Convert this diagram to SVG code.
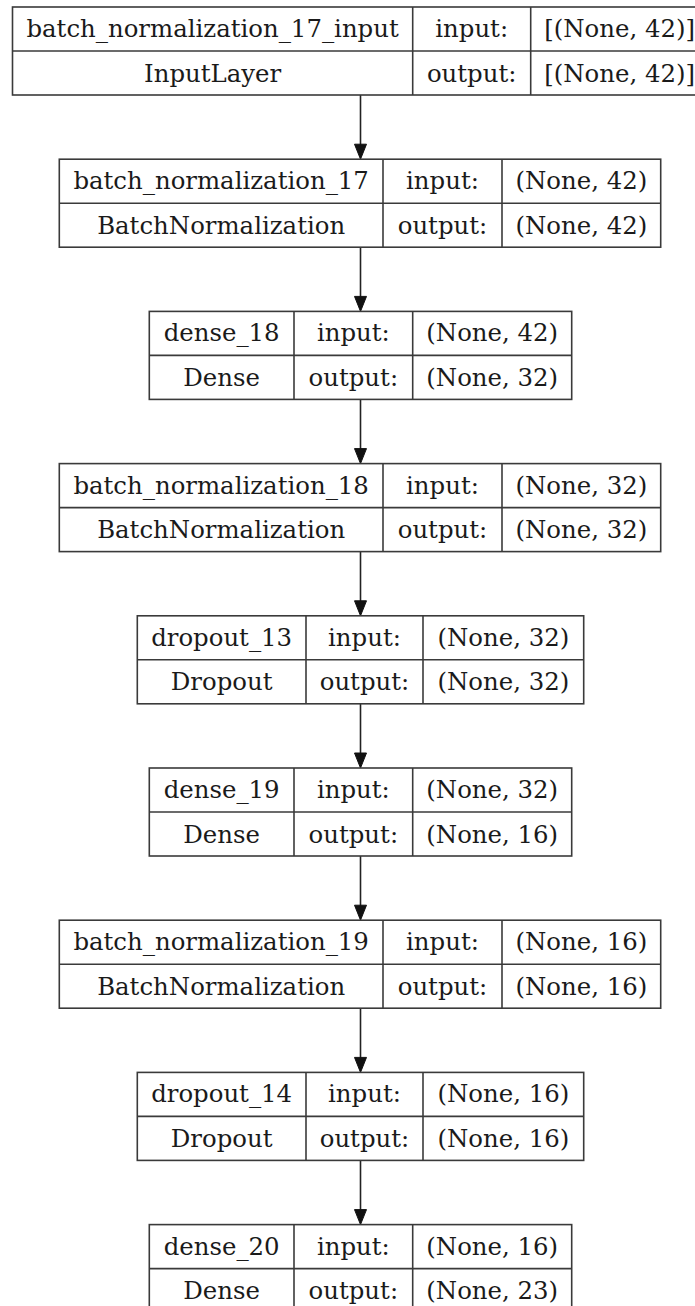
<svg xmlns="http://www.w3.org/2000/svg" width="695" height="1306" viewBox="0 0 695 1306">
<style>
.box{fill:#fff;stroke:#3a3a3a;stroke-width:1.6}
.ln{stroke:#3a3a3a;stroke-width:1.6}
text{font-family:"DejaVu Serif","Liberation Serif",serif;font-size:24.4px;fill:#1a1a1a;text-anchor:middle}
.edge{stroke:#222;stroke-width:1.6;fill:none}
.head{fill:#111;stroke:#111;stroke-width:1}
</style>
<rect width="695" height="1306" fill="#fff"/>
<g id="connectors">
<line class="edge" x1="360.5" y1="95" x2="360.5" y2="145"/><polygon class="head" points="360.5,159.2 354.5,144.2 366.5,144.2"/>
<line class="edge" x1="360.5" y1="247.2" x2="360.5" y2="297"/><polygon class="head" points="360.5,311.4 354.5,296.4 366.5,296.4"/>
<line class="edge" x1="360.5" y1="399.4" x2="360.5" y2="449"/><polygon class="head" points="360.5,463.6 354.5,448.6 366.5,448.6"/>
<line class="edge" x1="360.5" y1="551.6" x2="360.5" y2="601"/><polygon class="head" points="360.5,615.8 354.5,600.8 366.5,600.8"/>
<line class="edge" x1="360.5" y1="703.8" x2="360.5" y2="754"/><polygon class="head" points="360.5,768 354.5,753 366.5,753"/>
<line class="edge" x1="360.5" y1="856" x2="360.5" y2="906"/><polygon class="head" points="360.5,920.2 354.5,905.2 366.5,905.2"/>
<line class="edge" x1="360.5" y1="1008.2" x2="360.5" y2="1058"/><polygon class="head" points="360.5,1072.4 354.5,1057.4 366.5,1057.4"/>
<line class="edge" x1="360.5" y1="1160.4" x2="360.5" y2="1210"/><polygon class="head" points="360.5,1224.6 354.5,1209.6 366.5,1209.6"/>
</g>
<g id="node_input">
<rect class="box" x="12.5" y="7" width="696" height="88"/>
<line class="ln" x1="12.5" y1="51" x2="708.5" y2="51"/>
<line class="ln" x1="412.7" y1="7" x2="412.7" y2="95"/>
<line class="ln" x1="530.7" y1="7" x2="530.7" y2="95"/>
<text x="212.6" y="37">batch_normalization_17_input</text>
<text x="212.6" y="81.5">InputLayer</text>
<text x="471.7" y="37">input:</text>
<text x="471.7" y="81.5">output:</text>
<text x="619.6" y="37">[(None, 42)]</text>
<text x="619.6" y="81.5">[(None, 42)]</text>
</g>
<g id="node_bn17" transform="translate(0,159.2)">
<rect class="box" x="59.3" y="0" width="601.4" height="88"/>
<line class="ln" x1="59.3" y1="44" x2="660.7" y2="44"/>
<line class="ln" x1="383" y1="0" x2="383" y2="88"/>
<line class="ln" x1="502" y1="0" x2="502" y2="88"/>
<text x="221.15" y="30">batch_normalization_17</text>
<text x="221.15" y="74.5">BatchNormalization</text>
<text x="442.5" y="30">input:</text>
<text x="442.5" y="74.5">output:</text>
<text x="581.35" y="30">(None, 42)</text>
<text x="581.35" y="74.5">(None, 42)</text>
</g>
<g id="node_dense18" transform="translate(0,311.4)">
<rect class="box" x="149.3" y="0" width="422.4" height="88"/>
<line class="ln" x1="149.3" y1="44" x2="571.7" y2="44"/>
<line class="ln" x1="294" y1="0" x2="294" y2="88"/>
<line class="ln" x1="412.7" y1="0" x2="412.7" y2="88"/>
<text x="221.65" y="30">dense_18</text>
<text x="221.65" y="74.5">Dense</text>
<text x="353.35" y="30">input:</text>
<text x="353.35" y="74.5">output:</text>
<text x="492.2" y="30">(None, 42)</text>
<text x="492.2" y="74.5">(None, 32)</text>
</g>
<g id="node_bn18" transform="translate(0,463.6)">
<rect class="box" x="59.3" y="0" width="601.4" height="88"/>
<line class="ln" x1="59.3" y1="44" x2="660.7" y2="44"/>
<line class="ln" x1="383" y1="0" x2="383" y2="88"/>
<line class="ln" x1="502" y1="0" x2="502" y2="88"/>
<text x="221.15" y="30">batch_normalization_18</text>
<text x="221.15" y="74.5">BatchNormalization</text>
<text x="442.5" y="30">input:</text>
<text x="442.5" y="74.5">output:</text>
<text x="581.35" y="30">(None, 32)</text>
<text x="581.35" y="74.5">(None, 32)</text>
</g>
<g id="node_dropout13" transform="translate(0,615.8)">
<rect class="box" x="137.3" y="0" width="446.4" height="88"/>
<line class="ln" x1="137.3" y1="44" x2="583.7" y2="44"/>
<line class="ln" x1="306" y1="0" x2="306" y2="88"/>
<line class="ln" x1="423" y1="0" x2="423" y2="88"/>
<text x="221.65" y="30">dropout_13</text>
<text x="221.65" y="74.5">Dropout</text>
<text x="364.5" y="30">input:</text>
<text x="364.5" y="74.5">output:</text>
<text x="503.35" y="30">(None, 32)</text>
<text x="503.35" y="74.5">(None, 32)</text>
</g>
<g id="node_dense19" transform="translate(0,768)">
<rect class="box" x="149.3" y="0" width="422.4" height="88"/>
<line class="ln" x1="149.3" y1="44" x2="571.7" y2="44"/>
<line class="ln" x1="294" y1="0" x2="294" y2="88"/>
<line class="ln" x1="412.7" y1="0" x2="412.7" y2="88"/>
<text x="221.65" y="30">dense_19</text>
<text x="221.65" y="74.5">Dense</text>
<text x="353.35" y="30">input:</text>
<text x="353.35" y="74.5">output:</text>
<text x="492.2" y="30">(None, 32)</text>
<text x="492.2" y="74.5">(None, 16)</text>
</g>
<g id="node_bn19" transform="translate(0,920.2)">
<rect class="box" x="59.3" y="0" width="601.4" height="88"/>
<line class="ln" x1="59.3" y1="44" x2="660.7" y2="44"/>
<line class="ln" x1="383" y1="0" x2="383" y2="88"/>
<line class="ln" x1="502" y1="0" x2="502" y2="88"/>
<text x="221.15" y="30">batch_normalization_19</text>
<text x="221.15" y="74.5">BatchNormalization</text>
<text x="442.5" y="30">input:</text>
<text x="442.5" y="74.5">output:</text>
<text x="581.35" y="30">(None, 16)</text>
<text x="581.35" y="74.5">(None, 16)</text>
</g>
<g id="node_dropout14" transform="translate(0,1072.4)">
<rect class="box" x="137.3" y="0" width="446.4" height="88"/>
<line class="ln" x1="137.3" y1="44" x2="583.7" y2="44"/>
<line class="ln" x1="306" y1="0" x2="306" y2="88"/>
<line class="ln" x1="423" y1="0" x2="423" y2="88"/>
<text x="221.65" y="30">dropout_14</text>
<text x="221.65" y="74.5">Dropout</text>
<text x="364.5" y="30">input:</text>
<text x="364.5" y="74.5">output:</text>
<text x="503.35" y="30">(None, 16)</text>
<text x="503.35" y="74.5">(None, 16)</text>
</g>
<g id="node_dense20" transform="translate(0,1224.6)">
<rect class="box" x="149.3" y="0" width="422.4" height="88"/>
<line class="ln" x1="149.3" y1="44" x2="571.7" y2="44"/>
<line class="ln" x1="294" y1="0" x2="294" y2="88"/>
<line class="ln" x1="412.7" y1="0" x2="412.7" y2="88"/>
<text x="221.65" y="30">dense_20</text>
<text x="221.65" y="74.5">Dense</text>
<text x="353.35" y="30">input:</text>
<text x="353.35" y="74.5">output:</text>
<text x="492.2" y="30">(None, 16)</text>
<text x="492.2" y="74.5">(None, 23)</text>
</g>
</svg>
